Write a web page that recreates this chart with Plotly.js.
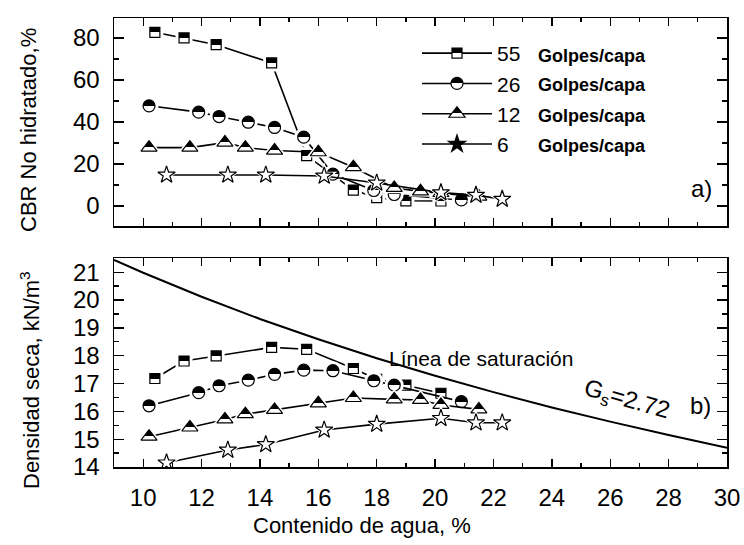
<!DOCTYPE html>
<html>
<head>
<meta charset="utf-8">
<script src="https://cdn.plot.ly/plotly-3.0.1.min.js"></script>
<style>html,body{margin:0;padding:0;background:#fff}#chart{width:744px;height:545px}</style>
</head>
<body>
<div id="chart"></div>
<script>
// ---- data ----
const legendNames = ["55", "26", "12", "6"];
const legendUnit = "Golpes/capa";

// 55 golpes/capa
const w55   = [10.4, 11.4, 12.5, 14.4, 15.6, 17.2, 18.0, 19.0, 20.2];
const cbr55 = [82.7, 80.0, 76.8, 68.1, 24.0, 7.6, 4.0, 2.5, 2.4];
const d55   = [17.18, 17.81, 17.99, 18.30, 18.23, 17.54, 17.15, 16.94, 16.65];
// 26 golpes/capa
const w26   = [10.2, 11.9, 12.6, 13.6, 14.5, 15.5, 16.5, 17.9, 18.6, 20.9];
const cbr26 = [47.7, 44.7, 42.6, 39.9, 37.4, 32.8, 15.2, 7.4, 5.5, 2.9];
const d26   = [16.20, 16.67, 16.92, 17.12, 17.33, 17.48, 17.46, 17.10, 16.94, 16.35];
// 12 golpes/capa
const w12   = [10.2, 11.6, 12.8, 13.5, 14.5, 16.0, 17.2, 18.6, 19.5, 20.2, 21.5];
const cbr12 = [27.8, 27.8, 30.2, 27.8, 26.4, 25.6, 18.5, 8.6, 7.0, 6.2, 4.5];
const d12   = [15.09, 15.42, 15.71, 15.90, 16.05, 16.29, 16.48, 16.43, 16.41, 16.23, 16.07];
// 6 golpes/capa
const w6    = [10.8, 12.9, 14.2, 16.2, 18.0, 20.2, 21.4, 22.3];
const cbr6  = [14.8, 14.8, 14.8, 14.3, 11.0, 6.4, 5.2, 3.3];
const d6    = [14.15, 14.61, 14.81, 15.33, 15.54, 15.75, 15.59, 15.59];
// saturation line (Gs = 2.72)
const wSat  = [9, 10, 12, 14, 16, 18, 20, 22, 24, 26, 28, 30];
const dSat  = [21.44, 20.98, 20.12, 19.32, 18.59, 17.91, 17.28, 16.69, 16.14, 15.63, 15.15, 14.69];

const xTicks = [10, 12, 14, 16, 18, 20, 22, 24, 26, 28, 30];
const cbrTicks = [0, 20, 40, 60, 80];
const dTicks = [14, 15, 16, 17, 18, 19, 20, 21];

// ---- styles ----
const FONT = "Liberation Sans, Arial, Helvetica, sans-serif";
const series = [
  {key: "sq",  x: w55, a: cbr55, b: d55, sym: "square",      size: 10, half: true},
  {key: "ci",  x: w26, a: cbr26, b: d26, sym: "circle",      size: 12, half: true},
  {key: "tri", x: w12, a: cbr12, b: d12, sym: "triangle-up", size: 14, half: true},
  {key: "st",  x: w6,  a: cbr6,  b: d6,  sym: "star",        size: 13, half: false}
];

function markerStyle(s, legend) {
  if (s.half) {
    return {symbol: s.sym, size: s.size, color: "black",
            gradient: {type: "vertical", color: "white"},
            line: {color: "black", width: 1.2}};
  }
  return {symbol: s.sym, size: s.size, color: legend ? "black" : "white",
          line: {color: "black", width: 1.2}};
}

const traces = [];
series.forEach((s, i) => {
  [["x2", "y", s.a, "A"], ["x", "y2", s.b, "B"]].forEach(([xa, ya, yv, p]) => {
    traces.push({x: s.x, y: yv, xaxis: xa, yaxis: ya, type: "scatter", mode: "lines",
      line: {color: "black", width: 1.6}, showlegend: false, hoverinfo: "skip"});
    traces.push({x: s.x, y: yv, xaxis: xa, yaxis: ya, type: "scatter", mode: "markers",
      marker: {symbol: s.sym, size: s.size + 7, color: "white", line: {width: 0}},
      showlegend: false, hoverinfo: "skip"});
    traces.push({uid: s.key + p, x: s.x, y: yv, xaxis: xa, yaxis: ya, type: "scatter", mode: "markers",
      marker: markerStyle(s, false), showlegend: false});
  });
});
// saturation line
traces.push({x: wSat, y: dSat, xaxis: "x", yaxis: "y2", type: "scatter", mode: "lines",
  line: {color: "black", width: 2}, showlegend: false});
// legend-only entries
series.forEach((s, i) => {
  traces.push({uid: s.key + "L", x: [null], y: [null], xaxis: "x2", yaxis: "y", type: "scatter",
    mode: "lines+markers", name: legendNames[i],
    line: {color: "black", width: 1.6}, marker: markerStyle(s, true)});
});

const L = 114, R = 727, T = 18, B = 467;
const pw = R - L, ph = B - T;
const py = (px) => (B - px) / ph;
const pxx = (px) => (px - L) / pw;

const axisCommon = {
  showline: true, linecolor: "black", linewidth: 1.5, mirror: "ticks",
  ticks: "inside", tickcolor: "black", tickwidth: 1.3,
  showgrid: false, zeroline: false,
  tickfont: {family: FONT, size: 24, color: "black"}
};

const layout = {
  width: 744, height: 545,
  margin: {l: L, r: 744 - R, t: T, b: 545 - B, pad: 0},
  paper_bgcolor: "white", plot_bgcolor: "white",
  font: {family: FONT, color: "black"},
  showlegend: true,
  legend: {x: pxx(417), y: py(33), xanchor: "left", yanchor: "top",
    bgcolor: "rgba(0,0,0,0)", font: {family: FONT, size: 21, color: "black"},
    itemwidth: 70, tracegroupgap: 0},
  xaxis: Object.assign({}, axisCommon, {domain: [0, 1], anchor: "y2", range: [9, 30],
    tickvals: xTicks, ticklen: 8, ticklabelstandoff: 9,
    minor: {dtick: 1, ticks: "inside", ticklen: 4, tickcolor: "black", showgrid: false}}),
  xaxis2: Object.assign({}, axisCommon, {domain: [0, 1], anchor: "y", matches: "x", range: [9, 30],
    tickvals: xTicks, ticklen: 8, showticklabels: false,
    minor: {dtick: 1, ticks: "inside", ticklen: 4, tickcolor: "black", showgrid: false}}),
  yaxis: Object.assign({}, axisCommon, {domain: [py(226), 1], anchor: "x2", range: [-9.5, 89.5],
    tickvals: cbrTicks, ticklen: 10, ticklabelstandoff: 8,
    minor: {dtick: 10, ticks: "inside", ticklen: 5, tickcolor: "black", showgrid: false}}),
  yaxis2: Object.assign({}, axisCommon, {domain: [0, py(258.3)], anchor: "x", range: [14, 21.5],
    tickvals: dTicks, ticklen: 10, ticklabelstandoff: 8,
    minor: {dtick: 0.5, ticks: "inside", ticklen: 5, tickcolor: "black", showgrid: false}}),
  annotations: [
    {text: "CBR No hidratado,%", xref: "paper", yref: "paper", x: pxx(28), y: py(130),
     textangle: -90, showarrow: false, xanchor: "center", yanchor: "middle",
     font: {family: FONT, size: 22}},
    {text: "Densidad seca, kN/m<sup>3</sup>", xref: "paper", yref: "paper", x: pxx(30), y: py(380),
     textangle: -90, showarrow: false, xanchor: "center", yanchor: "middle",
     font: {family: FONT, size: 22}},
    {text: "Contenido de agua, %", xref: "paper", yref: "paper", x: pxx(362), y: py(525),
     showarrow: false, xanchor: "center", yanchor: "middle", font: {family: FONT, size: 22}},
    {text: "a)", xref: "paper", yref: "paper", x: pxx(701), y: py(188),
     showarrow: false, xanchor: "center", yanchor: "middle", font: {family: FONT, size: 24}},
    {text: "b)", xref: "paper", yref: "paper", x: pxx(700), y: py(405),
     showarrow: false, xanchor: "center", yanchor: "middle", font: {family: FONT, size: 24}},
    {text: "Línea de saturación", xref: "paper", yref: "paper", x: pxx(481), y: py(358),
     showarrow: false, xanchor: "center", yanchor: "middle", font: {family: FONT, size: 21}},
    {text: "G<sub>s</sub>=2.72", xref: "paper", yref: "paper", x: pxx(627), y: py(400),
     textangle: 16, showarrow: false, xanchor: "center", yanchor: "middle", font: {family: FONT, size: 24}}
  ].concat(legendNames.map((n, i) => ({
    text: "<b>" + legendUnit + "</b>", xref: "paper", yref: "paper",
    x: pxx(536), y: py([56, 85, 116, 146][i]), xanchor: "left", yanchor: "middle",
    showarrow: false, font: {family: FONT, size: 18}
  })))
};

function sharpen(gd) {
  gd.querySelectorAll("linearGradient").forEach(g => {
    if (g.getAttribute("data-sharp")) return;
    const st = g.querySelectorAll("stop");
    if (st.length !== 2) return;
    const off = (g.id || "").indexOf("tri") >= 0 ? "38%" : "50%";
    const a = st[0].cloneNode(); a.setAttribute("offset", off);
    const b = st[1].cloneNode(); b.setAttribute("offset", off);
    g.insertBefore(a, st[1]); g.insertBefore(b, st[1]);
    g.setAttribute("data-sharp", "1");
  });
}

const gd = document.getElementById("chart");
Plotly.newPlot(gd, traces, layout, {displayModeBar: false, staticPlot: true}).then(() => {
  sharpen(gd);
  gd.on && gd.on("plotly_afterplot", () => sharpen(gd));
});
</script>
</body>
</html>
